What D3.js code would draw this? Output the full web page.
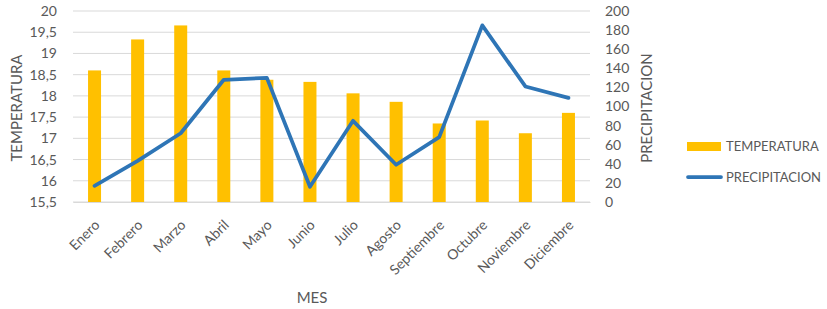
<!DOCTYPE html>
<html><head><meta charset="utf-8">
<script src="https://cdn.jsdelivr.net/npm/d3@7"></script>
<style>body{margin:0;background:#fff}svg{display:block}text{font-family:Lato,"Open Sans",sans-serif;fill:#595959}</style>
</head><body><svg id="c" width="827" height="309"></svg>
<script>
const months = ["Enero","Febrero","Marzo","Abril","Mayo","Junio","Julio","Agosto","Septiembre","Octubre","Noviembre","Diciembre"];
const temperatura = [18.6,19.33,19.66,18.6,18.38,18.33,18.06,17.86,17.35,17.42,17.12,17.6];
const precipitacion = [17,43,72,128,130,16,85,39,68,185,121,109];
const leftTicks = [15.5,16,16.5,17,17.5,18,18.5,19,19.5,20];
const rightTicks = [0,20,40,60,80,100,120,140,160,180,200];

const svg = d3.select("#c");
const L = 73, R = 590, T = 11, B = 202;
const xc = d3.scaleBand().domain(months).range([L,R]);
const yL = d3.scaleLinear().domain([15.5,20]).range([B,T]);
const yR = d3.scaleLinear().domain([0,200]).range([B,T]);
const fmt = d => String(d).replace(".", ",");

// grid
svg.append("g").selectAll("line").data(leftTicks).join("line")
  .attr("x1",L).attr("x2",R).attr("y1",d=>yL(d)).attr("y2",d=>yL(d))
  .attr("stroke","#d9d9d9").attr("stroke-width",1);

// bars
svg.append("g").selectAll("rect").data(months).join("rect")
  .attr("x",d=>xc(d)+xc.bandwidth()/2-6.5).attr("width",13)
  .attr("y",(d,i)=>yL(temperatura[i])).attr("height",(d,i)=>B-yL(temperatura[i]))
  .attr("fill","#FFC000");

// line
const line = d3.line().x((d,i)=>xc(months[i])+xc.bandwidth()/2).y(d=>yR(d));
svg.append("path").datum(precipitacion).attr("d",line)
  .attr("fill","none").attr("stroke","#2E75B6").attr("stroke-width",3.75)
  .attr("stroke-linejoin","round").attr("stroke-linecap","round");

// left axis labels
const ax = d3.axisLeft(yL).tickValues(leftTicks).tickFormat(fmt).tickSize(0).tickPadding(0);
const gL = svg.append("g").attr("transform",`translate(${L-16},0)`).call(ax);
gL.select(".domain").remove();
gL.selectAll("text").attr("font-size",14).style("font-family","Lato").attr("fill","#595959");

// right axis labels
const axR = d3.axisRight(yR).tickValues(rightTicks).tickSize(0).tickPadding(0);
const gR = svg.append("g").attr("transform",`translate(605,0)`).call(axR);
gR.select(".domain").remove();
gR.selectAll("text").attr("font-size",14).style("font-family","Lato").attr("fill","#595959");

// x labels
const axX = d3.axisBottom(xc).tickSize(0).tickPadding(0);
const gX = svg.append("g").attr("transform",`translate(0,${B})`).call(axX);
gX.select(".domain").attr("stroke","#d9d9d9");
gX.selectAll("text").attr("font-size",14).style("font-family","Lato").attr("fill","#595959")
  .attr("text-anchor","end").attr("dy",null).attr("y",0)
  .attr("transform","translate(6,24) rotate(-45)");

// axis titles
svg.append("text").attr("transform","translate(22,108) rotate(-90)").attr("text-anchor","middle")
  .attr("font-size",15).text("TEMPERATURA");
svg.append("text").attr("transform","translate(652,108) rotate(-90)").attr("text-anchor","middle")
  .attr("font-size",15).text("PRECIPITACION");
svg.append("text").attr("x",312).attr("y",303).attr("text-anchor","middle")
  .attr("font-size",15).text("MES");

// legend
const lg = svg.append("g");
lg.append("rect").attr("x",687).attr("y",142).attr("width",34).attr("height",9).attr("fill","#FFC000");
lg.append("text").attr("x",726).attr("y",151).attr("font-size",13).text("TEMPERATURA");
lg.append("line").attr("x1",688).attr("x2",721).attr("y1",177).attr("y2",177)
  .attr("stroke","#2E75B6").attr("stroke-width",3.75).attr("stroke-linecap","round");
lg.append("text").attr("x",726).attr("y",182).attr("font-size",13).text("PRECIPITACION");
</script></body></html>
